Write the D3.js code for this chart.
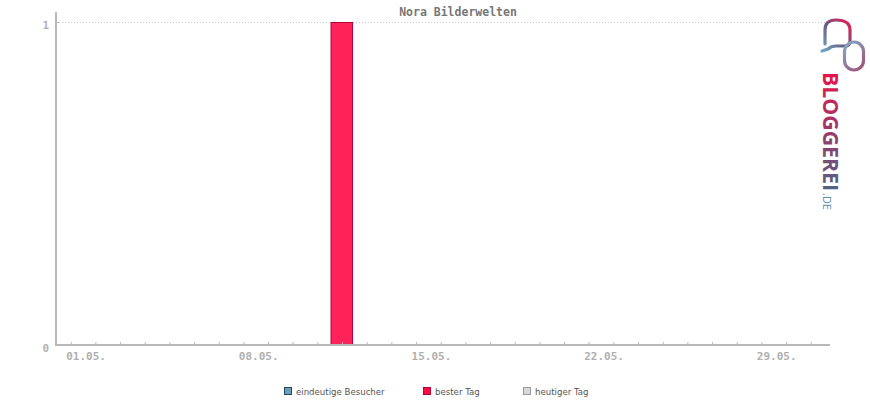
<!DOCTYPE html>
<html><head><meta charset="utf-8">
<script src="https://cdn.jsdelivr.net/npm/d3@7"></script>
<style>body{margin:0;background:#fff}svg{display:block}</style>
</head><body>
<script>
const title = "Nora Bilderwelten";
const days = d3.range(1, 32);
const dayLabels = {1:"01.05.", 8:"08.05.", 15:"15.05.", 22:"22.05.", 29:"29.05."};
const visitors = days.map(() => 0);
const bestDay = [{day: 12, value: 1}];
const yTicks = [0, 1];
const legendItems = [
  {label: "eindeutige Besucher", fill: "#6b9fb8", stroke: "#1d4a5e"},
  {label: "bester Tag", fill: "#ff0a45", stroke: "#b00035"},
  {label: "heutiger Tag", fill: "#d8d8d8", stroke: "#999"}
];

const W = 870, H = 400;
const svg = d3.select("body").append("svg").attr("width", W).attr("height", H);
const axisCol = "#b8b8b8";
const monoFont = "'DejaVu Sans Mono', monospace";

const x = d3.scaleLinear().domain([1, 31]).range([70.7, 810.7]);
const y = d3.scaleLinear().domain([0, 1]).range([345, 22]);
const xLeft = 56, xRight = 830;

// grid line
svg.append("line").attr("x1", xLeft).attr("x2", xRight)
  .attr("y1", y(1) + 0.5).attr("y2", y(1) + 0.5)
  .attr("stroke", "#c8c8c8").attr("stroke-dasharray", "1,2");

// bar
svg.selectAll("rect.best").data(bestDay).enter().append("rect")
  .attr("x", d => x(d.day) - 11).attr("width", 21.5)
  .attr("y", d => y(d.value) + 0.5).attr("height", d => y(0) - y(d.value) - 0.5)
  .attr("fill", "#ff2258").attr("stroke", "#b4003a").attr("stroke-width", 1);

// x axis
const xAxis = d3.axisBottom(x).tickValues(days).tickSize(0).tickFormat("");
const gx = svg.append("g").attr("transform", `translate(0,${y(0)})`).call(xAxis);
gx.select(".domain").remove();
gx.selectAll(".tick").append("line").attr("y1", 0).attr("y2", -3).attr("stroke", axisCol);
gx.selectAll(".tick").filter(d => dayLabels[d]).append("text")
  .attr("x", -5).attr("y", 15).attr("text-anchor", "start")
  .attr("fill", "#b0b0b0").attr("font-family", monoFont).attr("font-weight", "bold")
  .attr("font-size", "11px").text(d => dayLabels[d]);
svg.append("line").attr("x1", xLeft - 1).attr("x2", xRight).attr("y1", y(0)).attr("y2", y(0))
  .attr("stroke", axisCol).attr("stroke-width", 2);

// y axis
const yAxis = d3.axisLeft(y).tickValues(yTicks).tickSize(0).tickFormat(d3.format("d"));
const gy = svg.append("g").attr("transform", `translate(${xLeft},0)`).call(yAxis);
gy.select(".domain").remove();
gy.selectAll(".tick text").attr("x", -7).attr("dy", "0.35em").attr("y", 2.5)
  .attr("fill", "#b0b0b0").attr("font-family", monoFont).attr("font-weight", "bold").attr("font-size", "11px");
gy.selectAll(".tick").append("line").attr("x1", 0).attr("x2", 3).attr("stroke", axisCol);
svg.append("line").attr("x1", xLeft).attr("x2", xLeft).attr("y1", 12).attr("y2", y(0) + 1)
  .attr("stroke", axisCol).attr("stroke-width", 2);

// title
svg.append("text").attr("x", 458).attr("y", 16).attr("text-anchor", "middle")
  .attr("fill", "#777").attr("font-family", monoFont).attr("font-weight", "bold")
  .attr("font-size", "11.5px").text(title);

// legend
const lx = [284, 423, 523];
const lg = svg.selectAll("g.leg").data(legendItems).enter().append("g")
  .attr("transform", (d, i) => `translate(${lx[i]},387)`);
lg.append("rect").attr("x", 0.5).attr("y", 0.5).attr("width", 7).attr("height", 7)
  .attr("fill", d => d.fill).attr("stroke", d => d.stroke);
lg.append("text").attr("x", 12).attr("y", 7.5).attr("fill", "#555")
  .attr("font-family", "'DejaVu Sans', sans-serif").attr("font-size", "8.6px").text(d => d.label);

// logo
const defs = svg.append("defs");
const g1 = defs.append("linearGradient").attr("id", "lgText")
  .attr("gradientUnits", "userSpaceOnUse").attr("x1", 0).attr("y1", 0).attr("x2", 119).attr("y2", 0);
g1.append("stop").attr("offset", 0).attr("stop-color", "#e8144a");
g1.append("stop").attr("offset", 0.5).attr("stop-color", "#9a3a6a");
g1.append("stop").attr("offset", 1).attr("stop-color", "#4f6388");
const g2 = defs.append("linearGradient").attr("id", "lgBub").attr("gradientUnits", "userSpaceOnUse")
  .attr("x1", 822).attr("y1", 50).attr("x2", 852).attr("y2", 22);
g2.append("stop").attr("offset", 0).attr("stop-color", "#6fa8c0");
g2.append("stop").attr("offset", 0.5).attr("stop-color", "#6a5a88");
g2.append("stop").attr("offset", 1).attr("stop-color", "#f0184a");
const g3 = defs.append("linearGradient").attr("id", "lgLink").attr("gradientUnits", "userSpaceOnUse")
  .attr("x1", 840).attr("y1", 45).attr("x2", 866).attr("y2", 70);
g3.append("stop").attr("offset", 0).attr("stop-color", "#7fb0c8");
g3.append("stop").attr("offset", 1).attr("stop-color", "#a04a70");

svg.append("path")
  .attr("d", "M825,44 L825,30 Q825,20 836,20 Q850,20 850,30 L850,41 Q850,46 845,46 L836,46 Q831,46 828,49 L822,51")
  .attr("fill", "none").attr("stroke", "url(#lgBub)").attr("stroke-width", 3.2).attr("stroke-linecap", "round");
svg.append("rect").attr("x", 844.5).attr("y", 42).attr("width", 19).attr("height", 28).attr("rx", 9.5)
  .attr("fill", "none").attr("stroke", "url(#lgLink)").attr("stroke-width", 3.2);

const logo = svg.append("g").attr("transform", "translate(823,72) rotate(90)");
logo.append("text").attr("x", 0).attr("y", 0)
  .attr("font-family", "'Open Sans', 'DejaVu Sans', sans-serif").attr("font-weight", "bold")
  .attr("font-size", "21px").attr("fill", "url(#lgText)")
  .attr("textLength", 119).attr("lengthAdjust", "spacingAndGlyphs").text("BLOGGEREI");
logo.append("text").attr("x", 121).attr("y", 0)
  .attr("font-family", "'Open Sans', 'DejaVu Sans', sans-serif")
  .attr("font-size", "11px").attr("fill", "#5a8fb0").text(".DE");
</script>
</body></html>
